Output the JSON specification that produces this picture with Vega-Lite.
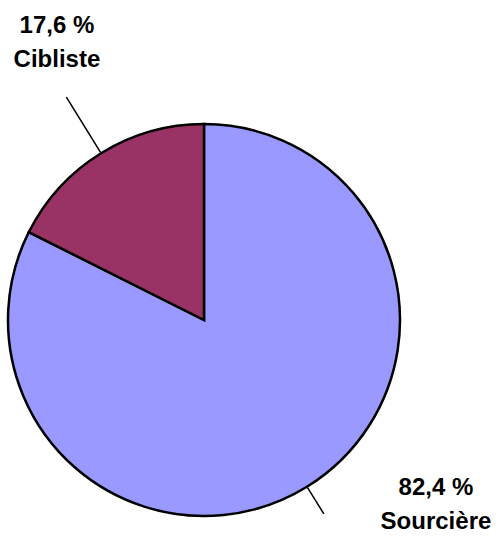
{
  "$schema": "https://vega.github.io/schema/vega-lite/v6.json",
  "width": 408,
  "height": 392,
  "autosize": {"type": "none"},
  "padding": {"left": 0, "top": 124, "right": 90, "bottom": 20},
  "background": "white",
  "config": {"view": {"stroke": null}},
  "data": {
    "values": [
      {"Categorie": "Sourcière", "Pourcentage": 82.4, "label": "82,4 %\nSourcière"},
      {"Categorie": "Cibliste", "Pourcentage": 17.6, "label": "17,6 %\nCibliste"}
    ]
  },
  "encoding": {
    "theta": {"field": "Pourcentage", "type": "quantitative", "stack": true},
    "order": {"field": "Categorie", "sort": "descending"}
  },
  "layer": [
    {
      "mark": {"type": "arc", "stroke": "black", "strokeWidth": 2.5},
      "encoding": {
        "color": {
          "field": "Categorie",
          "type": "nominal",
          "scale": {"domain": ["Sourcière", "Cibliste"], "range": ["#9999FF", "#993366"]},
          "legend": null
        }
      }
    },
    {
      "mark": {"type": "text", "radius": 280, "dy": -56, "lineBreak": "\n", "lineHeight": 34,
               "font": "Liberation Sans", "fontWeight": "bold", "fontSize": 24,
               "align": "center", "baseline": "middle", "color": "black"},
      "encoding": {"text": {"condition": {"test": "datum.Categorie === 'Cibliste'", "field": "label"}, "value": ""}}
    },
    {
      "mark": {"type": "text", "radius": 217, "dx": 118, "dy": -17, "lineBreak": "\n", "lineHeight": 34,
               "font": "Liberation Sans", "fontWeight": "bold", "fontSize": 24,
               "align": "center", "baseline": "middle", "color": "black"},
      "encoding": {"text": {"condition": {"test": "datum.Categorie === 'Sourcière'", "field": "label"}, "value": ""}}
    },
    {
      "transform": [{"filter": "datum.Categorie === 'Cibliste'"}],
      "mark": {"type": "arc", "theta": -0.553, "theta2": -0.553, "radius": 262, "radius2": 197,
               "stroke": "black", "strokeWidth": 1.5, "fill": null},
      "encoding": {"theta": null, "order": null}
    },
    {
      "transform": [{"filter": "datum.Categorie === 'Sourcière'"}],
      "mark": {"type": "arc", "theta": 2.588, "theta2": 2.588, "radius": 228, "radius2": 197,
               "stroke": "black", "strokeWidth": 1.5, "fill": null},
      "encoding": {"theta": null, "order": null}
    }
  ]
}
